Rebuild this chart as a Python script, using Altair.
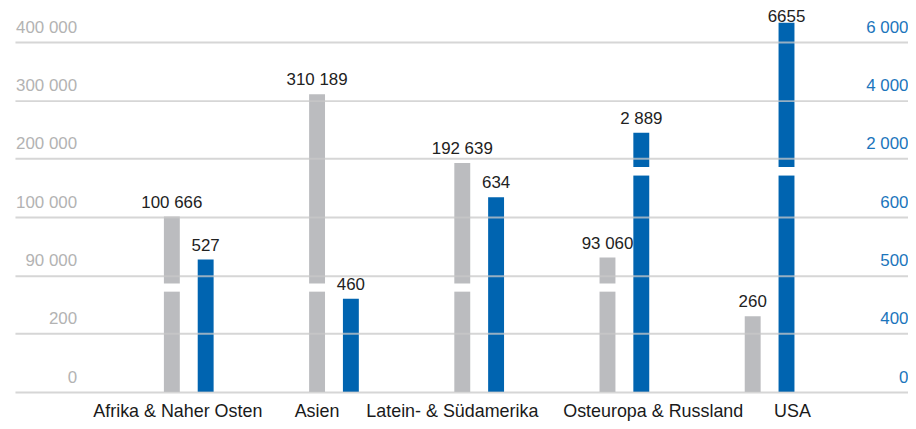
import altair as alt
import pandas as pd

# ---- data -------------------------------------------------------------
categories = ["Afrika & Naher Osten", "Asien", "Latein- & Südamerika",
              "Osteuropa & Russland", "USA"]
gray_values = [100666, 310189, 192639, 93060, 260]
gray_labels = ["100 666", "310 189", "192 639", "93 060", "260"]
blue_values = [527, 460, 634, 2889, 6655]
blue_labels = ["527", "460", "634", "2 889", "6655"]

left_ticks = [0, 200, 90000, 100000, 200000, 300000, 400000]
right_ticks = [0, 400, 500, 600, 2000, 4000, 6000]

# axis breaks (value where the lower part stops / upper part resumes)
left_break = (344, 88600)
right_break = (671, 1714)

# horizontal nudge of the category captions (px)
category_nudge = [-11, -17, -27, 29, 23]

# ---- layout / style ---------------------------------------------------
W, H = 898, 352
ROW = H / 6
GRAY = "#bbbcbf"
BLUE = "#0064b0"
FONT = "Liberation Sans"
PAD_OUTER, ALIGN = 0.575, 0.606
STEP = W / (len(categories) + 2 * PAD_OUTER)

# piecewise scales: each tick sits on an evenly spaced grid row
left_domain = [0, 200, left_break[0], left_break[1], 90000, 100000, 400000]
left_rows = [0, 1, 1.72, 1.86, 2, 3, 6]
right_domain = [0, 400, 600, right_break[0], right_break[1], 2000, 6000]
right_rows = [0, 1, 3, 3.71, 3.857, 4, 6]

left_scale = alt.Scale(domain=left_domain, range=[H - r * ROW for r in left_rows],
                       nice=False, zero=False)
right_scale = alt.Scale(domain=right_domain, range=[H - r * ROW for r in right_rows],
                        nice=False, zero=False)
# keep the topmost value label inside the page
right_label_cap = 6375

gray_df = pd.DataFrame({"category": categories, "value": gray_values,
                        "label": gray_labels})
blue_df = pd.DataFrame({"category": categories, "value": blue_values,
                        "label": blue_labels})
cat_df = pd.DataFrame({"category": categories, "nudge": category_nudge})

xenc = alt.X("category:N", sort=categories, axis=None,
             scale=alt.Scale(paddingInner=0, paddingOuter=PAD_OUTER, align=ALIGN))

label_expr = "replace(format(datum.value, ','), ',', ' ')"

left_axis = alt.Axis(orient="left", values=left_ticks, labelExpr=label_expr,
                     title=None, grid=True, gridColor="#c8c8c8", gridWidth=2,
                     gridOpacity=0.75, zindex=1, domain=False, ticks=False,
                     tickSize=0, labelAlign="right", labelPadding=-62,
                     labelBaseline="alphabetic", labelOffset=-10,
                     labelColor="#b3b3b3", labelFontSize=17, labelFont=FONT)
right_axis = alt.Axis(orient="right", values=right_ticks, labelExpr=label_expr,
                      title=None, grid=False, domain=False, ticks=False,
                      tickSize=0, labelAlign="right", labelPadding=0,
                      labelBaseline="alphabetic", labelOffset=-10,
                      labelColor="#1b75bc", labelFontSize=17, labelFont=FONT)

# ---- gray (left axis) -------------------------------------------------
g_bar = alt.Chart(gray_df).mark_bar(width=16, xOffset=-17, color=GRAY).encode(
    x=xenc, y=alt.Y("value:Q", scale=left_scale, axis=left_axis))
g_gap = alt.Chart(gray_df).transform_filter(
    alt.datum.value > left_break[1]
).transform_calculate(lo=str(left_break[0]), hi=str(left_break[1])).mark_bar(
    width=18, xOffset=-17, color="white").encode(
    x=xenc, y=alt.Y("lo:Q", scale=left_scale, axis=left_axis), y2="hi:Q")
g_txt = alt.Chart(gray_df).mark_text(
    xOffset=-17, dy=-9, baseline="alphabetic", fontSize=17, font=FONT,
    color="#222222").encode(
    x=xenc, y=alt.Y("value:Q", scale=left_scale, axis=left_axis),
    text="label:N")
gray_layer = alt.layer(g_bar, g_gap, g_txt)

# ---- blue (right axis) ------------------------------------------------
b_bar = alt.Chart(blue_df).mark_bar(width=16, xOffset=17, color=BLUE).encode(
    x=xenc, y=alt.Y("value:Q", scale=right_scale, axis=right_axis))
b_gap = alt.Chart(blue_df).transform_filter(
    alt.datum.value > right_break[1]
).transform_calculate(lo=str(right_break[0]), hi=str(right_break[1])).mark_bar(
    width=18, xOffset=17, color="white").encode(
    x=xenc, y=alt.Y("lo:Q", scale=right_scale, axis=right_axis), y2="hi:Q")
b_txt = alt.Chart(blue_df).transform_calculate(
    label_y=f"min(datum.value, {right_label_cap})"
).mark_text(
    xOffset=17, dy=-9, baseline="alphabetic", fontSize=17, font=FONT,
    color="#222222").encode(
    x=xenc, y=alt.Y("label_y:Q", scale=right_scale, axis=right_axis),
    text="label:N")
blue_layer = alt.layer(b_bar, b_gap, b_txt)

# ---- category captions ------------------------------------------------
cat_txt = alt.Chart(cat_df).mark_text(
    baseline="alphabetic", fontSize=18, font=FONT, color="#1a1a1a").encode(
    x=xenc,
    xOffset=alt.XOffset("nudge:Q", scale=alt.Scale(
        domain=[-100, 100], range=[-100 + STEP / 2, 100 + STEP / 2])),
    y=alt.value(H + 25),
    text="category:N")

chart = alt.layer(gray_layer, blue_layer, cat_txt).resolve_scale(
    y="independent"
).properties(
    width=W, height=H,
    autosize=alt.AutoSizeParams(type="none"),
    padding={"left": 7, "top": 33, "right": 0, "bottom": 28},
).configure_view(stroke=None)

chart.save("out.html", embed_options={"renderer": "svg", "actions": False})
